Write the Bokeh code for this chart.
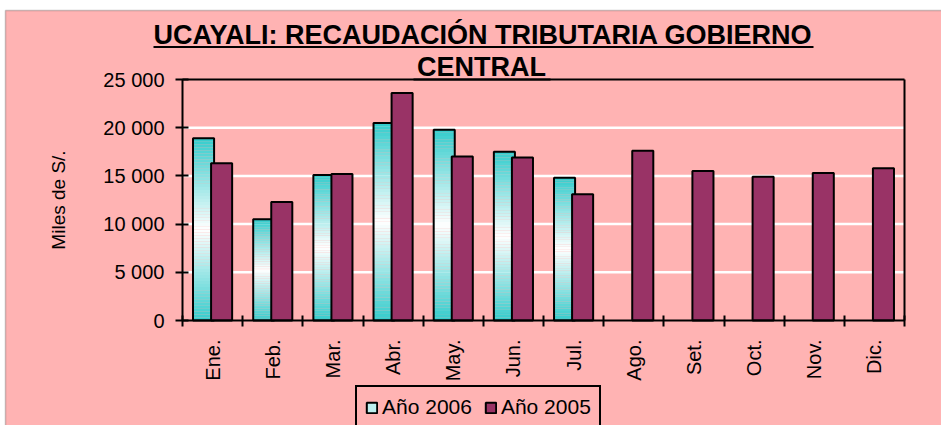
import numpy as np
from bokeh.plotting import figure
from bokeh.models import (ColumnDataSource, Range1d, FixedTicker, Legend, LegendItem, BoxAnnotation)
from bokeh.core.properties import value
from bokeh.embed import file_html
from bokeh.resources import INLINE

# ---------------- data ----------------
months = ["Ene.", "Feb.", "Mar.", "Abr.", "May.", "Jun.", "Jul.", "Ago.", "Set.", "Oct.", "Nov.", "Dic."]
vals_2006 = [18900, 10500, 15100, 20500, 19800, 17500, 14800]
vals_2005 = [16300, 12300, 15200, 23600, 17000, 16900, 13100, 17600, 15500, 14900, 15300, 15800]
y_ticks = [0, 5000, 10000, 15000, 20000, 25000]
y_tick_labels = ["0", "5 000", "10 000", "15 000", "20 000", "25 000"]
title_line1 = "UCAYALI: RECAUDACIÓN TRIBUTARIA GOBIERNO"
title_line2 = "CENTRAL"
legend_2006 = "Año 2006"
legend_2005 = "Año 2005"
y_label = "Miles de S/."

# ---------------- style / layout ----------------
PINK = "#FFB3B3"
TEAL = np.array([0x33, 0xCC, 0xCC], dtype=float)
WHITE = np.array([255, 255, 255], dtype=float)
PLUM = "#993366"
FONT = "Liberation Sans"
BAR_W = 0.35
OFF = 0.15
N_SLICES = 60

W, H = 941, 425
N = len(months)
YMAX = y_ticks[-1]
# pixel geometry of the plotting area (canvas pixels)
PX_LEFT, PX_RIGHT, PX_BOTTOM, PX_TOP = 182, 904, 320, 79
SX = (PX_RIGHT - PX_LEFT) / N
SY = (PX_BOTTOM - PX_TOP) / YMAX


def X(px):
    return (px - PX_LEFT) / SX


def Y(py):
    return (PX_BOTTOM - py) / SY


p = figure(width=W, height=H, output_backend="svg", toolbar_location=None,
           x_range=Range1d(X(0), X(W)), y_range=Range1d(Y(H), Y(0)),
           min_border_left=0, min_border_right=0, min_border_top=0, min_border_bottom=0)
p.background_fill_color = "white"
p.border_fill_color = "white"
p.outline_line_color = None
p.xgrid.visible = False
p.ygrid.visible = False

# chart area (pink with dark border)
p.add_layout(BoxAnnotation(left=X(5), right=X(W + 50), top=Y(10), bottom=Y(H + 50),
                           fill_color=PINK, fill_alpha=1, line_color="#4d4d4d", line_width=1.5,
                           level="underlay"))

# grid lines (white) at the y ticks
p.segment(x0=0, x1=N, y0=y_ticks[1:-1], y1=y_ticks[1:-1], line_color="white", line_width=2.5)

# 2006 bars: vertical gradient teal -> white -> teal, built from slices of each value
xs, bots, tops, cols = [], [], [], []
for i, v in enumerate(vals_2006):
    for k in range(N_SLICES):
        tt = (k + 0.5) / N_SLICES
        d = abs(2 * tt - 1)
        c = WHITE * (1 - d) + TEAL * d
        xs.append(i + 0.5 - OFF)
        bots.append(v * k / N_SLICES)
        tops.append(v * (k + 1) / N_SLICES)
        cols.append("#%02x%02x%02x" % tuple(int(round(a)) for a in c))
slices = ColumnDataSource(dict(x=xs, bottom=bots, top=tops, color=cols))
p.vbar(x="x", bottom="bottom", top="top", width=BAR_W, source=slices,
       fill_color="color", line_color=None)

src06 = ColumnDataSource(dict(x=[i + 0.5 - OFF for i in range(len(vals_2006))], top=vals_2006))
p.vbar(x="x", top="top", bottom=0, width=BAR_W, source=src06,
       fill_color=None, line_color="black", line_width=2)

src05 = ColumnDataSource(dict(x=[i + 0.5 + OFF for i in range(len(vals_2005))], top=vals_2005))
r05 = p.vbar(x="x", top="top", bottom=0, width=BAR_W, source=src05,
             fill_color=PLUM, line_color="black", line_width=2)

# legend swatch for 2006 (a not-drawn placeholder row)
r06_leg = p.vbar(x=[np.nan], top=[np.nan], width=BAR_W, fill_color="#BDEFEF",
                 line_color="black", line_width=2)

# plot-area frame: top and right edges
p.segment(x0=[0, N], y0=[YMAX, 0], x1=[N, N], y1=[YMAX, YMAX], line_color="black", line_width=2)

# ---------------- axes ----------------
yax = p.yaxis[0]
yax.fixed_location = 0
yax.bounds = (0, YMAX)
yax.ticker = FixedTicker(ticks=y_ticks)
yax.major_label_overrides = {tk: s for tk, s in zip(y_ticks, y_tick_labels)}
yax.minor_tick_line_color = None
yax.major_tick_in = 6
yax.major_tick_out = 7
yax.major_tick_line_width = 2
yax.axis_line_width = 2
yax.major_label_standoff = 11
yax.major_label_text_font = FONT
yax.major_label_text_font_size = "20px"
yax.major_label_text_color = "black"
yax.axis_label = y_label
yax.axis_label_text_font = FONT
yax.axis_label_text_font_size = "19px"
yax.axis_label_text_font_style = "normal"
yax.axis_label_text_color = "black"
yax.axis_label_standoff = 31

xax = p.xaxis[0]
xax.fixed_location = 0
xax.bounds = (0, N)
centers = [i + 0.5 for i in range(N)]
bounds = [float(i) for i in range(N + 1)]
xax.ticker = FixedTicker(ticks=centers, minor_ticks=bounds)
xax.major_label_overrides = {c: m for c, m in zip(centers, months)}
xax.major_tick_line_color = None
xax.major_tick_in = 0
xax.major_tick_out = 0
xax.minor_tick_in = 5
xax.minor_tick_out = 6
xax.minor_tick_line_width = 2
xax.minor_tick_line_color = "black"
xax.axis_line_width = 2
xax.major_label_orientation = np.pi / 2
xax.major_label_standoff = 13
xax.major_label_text_font = FONT
xax.major_label_text_font_size = "20px"
xax.major_label_text_color = "black"

# ---------------- title ----------------
p.text(x=[X(482.5)], y=[Y(34)], text=[title_line1], text_align="center", text_baseline="middle",
       text_font=value(FONT), text_font_size="27px", text_font_style="bold", text_color="black")
p.text(x=[X(481)], y=[Y(66.5)], text=[title_line2], text_align="center", text_baseline="middle",
       text_font=value(FONT), text_font_size="27px", text_font_style="bold", text_color="black")
p.segment(x0=[X(153), X(413)], y0=[Y(46.5), Y(79)], x1=[X(813), X(550)], y1=[Y(46.5), Y(79)],
          line_color="black", line_width=2)

# ---------------- legend ----------------
legend = Legend(items=[LegendItem(label=legend_2006, renderers=[r06_leg]),
                       LegendItem(label=legend_2005, renderers=[r05])],
                orientation="horizontal", location=(355, -4),
                background_fill_color=PINK, background_fill_alpha=1,
                border_line_color="black", border_line_width=2, border_line_alpha=1,
                label_text_font=FONT, label_text_font_size="21px", label_text_color="black",
                glyph_width=13, glyph_height=13, label_standoff=4, spacing=12,
                padding=8, margin=0, label_height=20)
p.add_layout(legend, "center")

open("out.html", "w").write(file_html(p, INLINE))
